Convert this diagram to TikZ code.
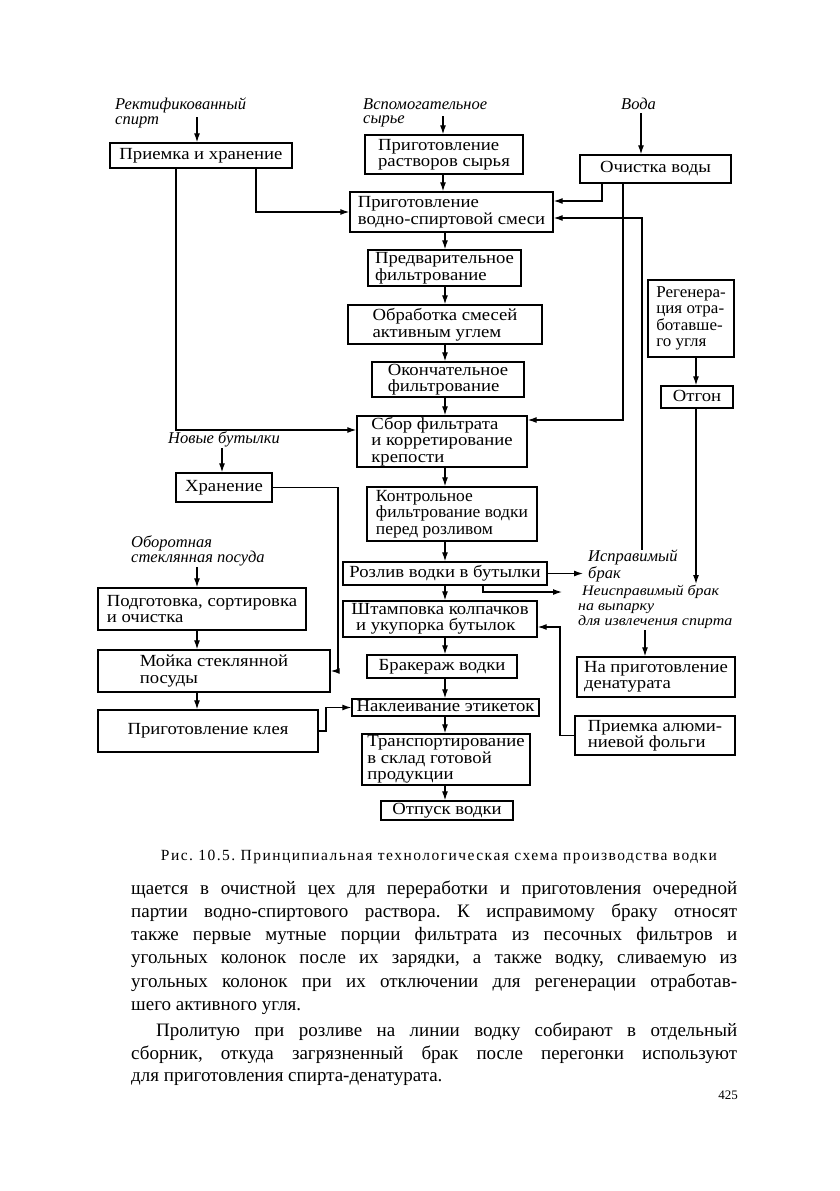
\documentclass[tikz,border=0pt]{standalone}
\usepackage{fontspec}
\setmainfont{Liberation Serif}
\newfontfamily\boxfont{Liberation Serif}[FakeStretch=1.1]
\newfontfamily\boxfontn{Liberation Serif}[FakeStretch=1.03]
\newfontfamily\capfont{Liberation Serif}[LetterSpace=9.5]
\newfontfamily\lblfont{Liberation Serif}[FakeStretch=1.1]
\usetikzlibrary{arrows.meta,calc}
\frenchspacing
\begin{document}
\begin{tikzpicture}[x=1pt,y=-1pt,
 bx/.style={draw,line width=1.4pt,align=left,inner sep=1pt,font=\boxfont\fontsize{17}{16.5}\selectfont},
 lbl/.style={align=left,inner sep=0pt,anchor=north west,font=\fontsize{16.5}{14.5}\selectfont\itshape},
 arr/.style={line width=1.2pt,-{Latex[length=9pt,width=6pt]}},
 bodyl/.style={anchor=base west,inner sep=0pt,font=\fontsize{19}{23}\selectfont}]
\useasboundingbox[fill=white] (0,0) rectangle (839,1191);
% boxes
\node[bx,minimum width=182pt,minimum height=25pt] (A) at (201,155.5) {Приемка и хранение};
\node[bx,minimum width=158pt,minimum height=39pt] (B) at (444,154.5) {Приготовление\\растворов сырья};
\node[bx,minimum width=151pt,minimum height=28pt] (C) at (655.5,169) {Очистка воды};
\node[bx,minimum width=203pt,minimum height=40pt] (D) at (451.5,212) {Приготовление\\водно-спиртовой смеси};
\node[bx,minimum width=153pt,minimum height=36pt] (E) at (444.5,268) {Предварительное\\фильтрование};
\node[bx,minimum width=194pt,minimum height=39pt] (F) at (445,324.5) {Обработка смесей\\активным углем};
\node[bx,minimum width=152pt,minimum height=35pt] (G) at (448,379.5) {Окончательное\\фильтрование};
\node[bx,minimum width=170pt,minimum height=51pt] (H) at (442,441.5) {Сбор фильтрата\\и корретирование\\крепости};
\node[bx,minimum width=96pt,minimum height=29pt] (I) at (224,487.5) {Хранение};
\node[bx,minimum width=170pt,minimum height=54pt,font=\boxfontn\fontsize{17}{16.5}\selectfont] (J) at (452,514) {Контрольное\\фильтрование водки\\перед розливом};
\node[bx,minimum width=208pt,minimum height=42pt] (K) at (202,609) {Подготовка, сортировка\\и очистка};
\node[bx,minimum width=204pt,minimum height=23pt,text height=12pt,text depth=4pt] (L) at (445,573.5) {Розлив водки в бутылки};
\node[bx,minimum width=194pt,minimum height=36pt] (M) at (440,619) {Штамповка колпачков\\\ и укупорка бутылок};
\node[bx,minimum width=232pt,minimum height=42pt] (N) at (214,671) {Мойка стеклянной\\посуды};
\node[bx,minimum width=150pt,minimum height=23pt,text height=12pt,text depth=4pt] (O) at (442,666.5) {Бракераж водки};
\node[bx,minimum width=220pt,minimum height=42pt] (P) at (208,731) {Приготовление клея};
\node[bx,minimum width=187pt,minimum height=17pt,inner sep=0pt,text height=11.5pt,text depth=3.5pt] (Q) at (445.5,707.5) {Наклеивание этикеток};
\node[bx,minimum width=168pt,minimum height=51pt] (R) at (446,759.5) {Транспортирование\\в склад готовой\\продукции};
\node[bx,minimum width=132pt,minimum height=19pt,inner sep=0pt,text height=12pt,text depth=4pt] (S) at (447,810.5) {Отпуск водки};
\node[bx,minimum width=86pt,minimum height=77pt,font=\boxfontn\fontsize{16.5}{16.5}\selectfont] (T) at (691,318.5) {Регенера-\\ция отра-\\ботавше-\\го угля};
\node[bx,minimum width=72pt,minimum height=22pt,text height=12pt,text depth=4pt] (U) at (697,397) {Отгон};
\node[bx,minimum width=158pt,minimum height=40pt] (V) at (656,677) {На приготовление\\денатурата};
\node[bx,minimum width=160pt,minimum height=39pt] (W) at (655,735.5) {Приемка алюми-\\ниевой фольги};
% labels
\node[lbl] (lRect) at (115,98) {Ректификованный\\спирт};
\node[lbl] (lVsp) at (363,98) {Вспомогательное\\сырье};
\node[lbl] (lVoda) at (621,98) {Вода};
\node[lbl] (lNew) at (168,431) {Новые бутылки};
\node[lbl] (lObor) at (131,535) {Оборотная\\стеклянная посуда};
\node[lbl,font=\fontsize{16.5}{14}\selectfont\itshape] (lIspr) at (588,550) {Исправимый\\брак};
\node[lbl,font=\lblfont\fontsize{14.5}{15}\selectfont\itshape] (lNeis) at (578,585) {\ Неисправимый брак\\ на выпарку\\для извлечения спирта};
% coordinates
\coordinate (r1) at (197,117);
\coordinate (v1) at (443,116);
\coordinate (w1) at (641,113);
\coordinate (ad) at (256,212);
\coordinate (ah) at (176,430);
\coordinate (cd) at (602,201);
\coordinate (ch) at (623,420);
\coordinate (id) at (642,218);
\coordinate (idb) at (642,550);
\coordinate (mx) at (445,0);
\coordinate (tx) at (696,0);
\coordinate (ue) at (696,584);
\coordinate (li) at (583,573.5);
\coordinate (ln) at (483,592);
\coordinate (ln2) at (562,592);
\coordinate (nv) at (645,630);
\coordinate (wm) at (560,627);
\coordinate (nb) at (222,448);
\coordinate (in) at (338,0);
\coordinate (ok) at (197,567);
\coordinate (pq) at (326,0);
% connectors
\draw[arr] (r1) -- (r1|-A.north);
\draw[arr] (v1) -- (v1|-B.north);
\draw[arr] (w1) -- (w1|-C.north);
\draw[arr] (ad|-A.south) |- (D.west);
\draw[arr] (ah|-A.south) |- (H.west|-ah);
\draw[arr] (B.south-|v1) -- (D.north-|v1);
\draw[arr] (cd|-C.south) |- (D.east|-cd);
\draw[arr] (ch|-C.south) |- (H.east|-ch);
\draw[arr] (idb) |- (D.east|-id);
\draw[arr] (D.south-|mx) -- (E.north-|mx);
\draw[arr] (E.south-|mx) -- (F.north-|mx);
\draw[arr] (F.south-|mx) -- (G.north-|mx);
\draw[arr] (G.south-|mx) -- (H.north-|mx);
\draw[arr] (H.south-|mx) -- (J.north-|mx);
\draw[arr] (J.south-|mx) -- (L.north-|mx);
\draw[arr] (L.south-|mx) -- (M.north-|mx);
\draw[arr] (M.south-|mx) -- (O.north-|mx);
\draw[arr] (O.south-|mx) -- (Q.north-|mx);
\draw[arr] (Q.south-|mx) -- (R.north-|mx);
\draw[arr] (R.south-|mx) -- (S.north-|mx);
\draw[arr] (T.south-|tx) -- (U.north-|tx);
\draw[arr] (U.south-|tx) -- (ue);
\draw[arr] (L.east) -- (li);
\draw[arr] (L.south-|ln) |- (ln2);
\draw[arr] (nv) -- (nv|-V.north);
\draw[arr] (W.west) -| (wm) -- (M.east|-wm);
\draw[arr] (nb) -- (nb|-I.north);
\draw[arr] (I.east) -| (in|-N.east) -- (N.east);
\draw[arr] (ok) -- (ok|-K.north);
\draw[arr] (K.south-|ok) -- (N.north-|ok);
\draw[arr] (N.south-|ok) -- (P.north-|ok);
\draw[arr] (P.east) -| (pq|-Q.west) -- (Q.west);
% caption
\node[inner sep=0pt,font=\capfont\fontsize{15.5}{17}\selectfont] (cap) at (439,857) {Рис. 10.5. Принципиальная технологическая схема производства водки};
% body text
\node[bodyl] (t1) at (131,894) {\makebox[606pt][s]{щается в очистной цех для переработки и приготовления очередной}};
\node[bodyl] (t2) at (131,917) {\makebox[606pt][s]{партии водно-спиртового раствора. К исправимому браку относят}};
\node[bodyl] (t3) at (131,940) {\makebox[606pt][s]{также первые мутные порции фильтрата из песочных фильтров и}};
\node[bodyl] (t4) at (131,963) {\makebox[606pt][s]{угольных колонок после их зарядки, а также водку, сливаемую из}};
\node[bodyl] (t5) at (131,987) {\makebox[606pt][s]{угольных колонок при их отключении для регенерации отработав-}};
\node[bodyl] (t6) at (131,1010) {шего активного угля.};
\node[bodyl] (t7) at (156,1036) {\makebox[581pt][s]{Пролитую при розливе на линии водку собирают в отдельный}};
\node[bodyl] (t8) at (131,1059) {\makebox[606pt][s]{сборник, откуда загрязненный брак после перегонки используют}};
\node[bodyl] (t9) at (131,1081) {для приготовления спирта-денатурата.};
\node[inner sep=0pt,anchor=base east,font=\fontsize{13}{15}\selectfont] (pg) at (738,1099) {425};
\end{tikzpicture}
\end{document}
